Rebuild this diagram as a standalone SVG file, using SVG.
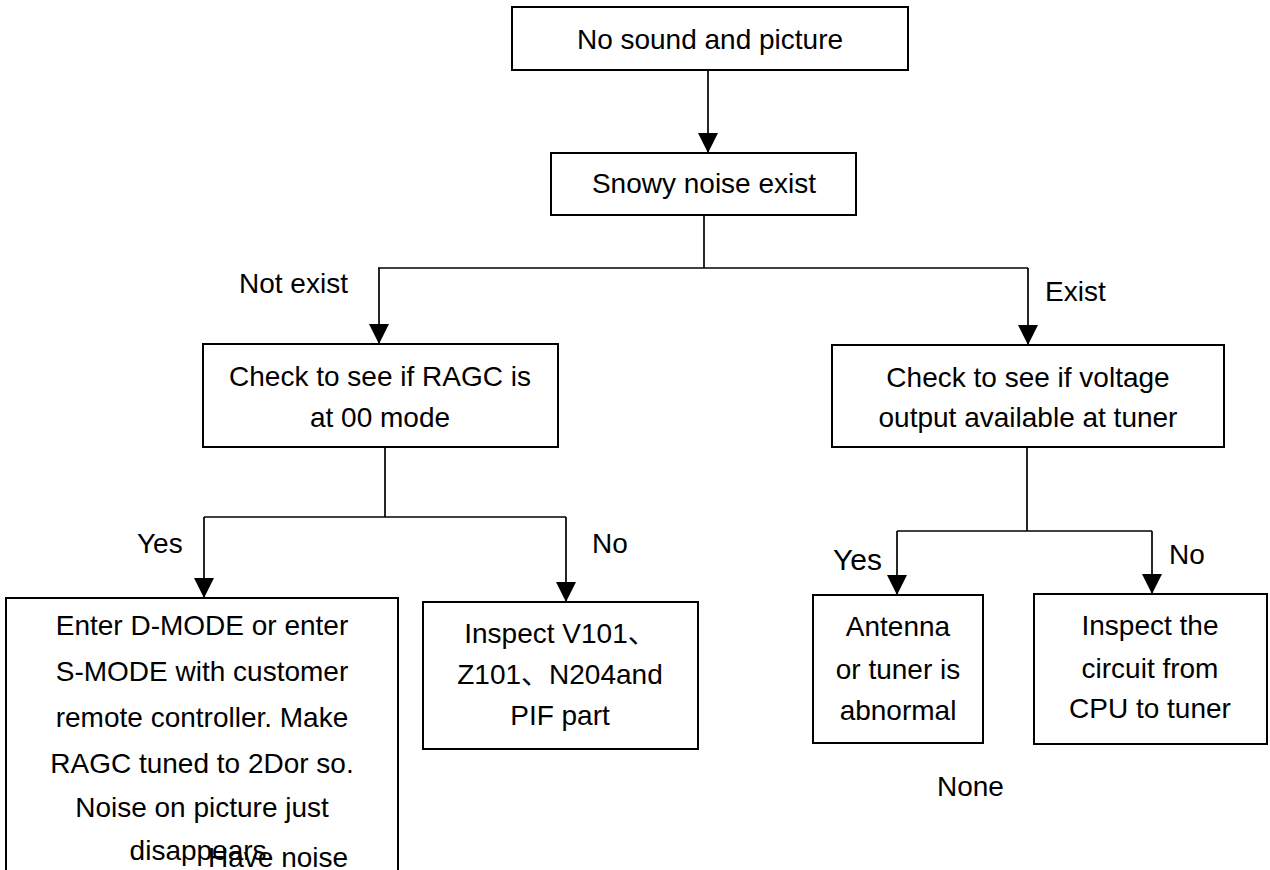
<svg xmlns="http://www.w3.org/2000/svg" width="1270" height="870" viewBox="0 0 1270 870">
  <style>
    .box { fill: #ffffff; stroke: #000000; stroke-width: 2; }
    .link { fill: none; stroke: #000000; stroke-width: 1.7; }
    .t { font-family: "Liberation Sans", Arial, "Noto Sans CJK SC", sans-serif; font-size: 28px; fill: #000000; text-anchor: middle; }
    .lbl { font-family: "Liberation Sans", Arial, sans-serif; font-size: 28px; fill: #000000; }
  </style>
  <defs>
    <marker id="arrow" viewBox="0 -10 20 20" refX="20" refY="0" markerWidth="20" markerHeight="20" markerUnits="userSpaceOnUse" orient="auto">
      <path d="M0,-10 L20,0 L0,10 Z" fill="#000000"/>
    </marker>
  </defs>
  <rect width="1270" height="870" fill="#ffffff"/>

  <!-- connectors -->
  <g id="connectors">
    <line class="link" x1="708" y1="70" x2="708" y2="153" marker-end="url(#arrow)"/>
    <polyline class="link" points="704,215 704,268"/>
    <line class="link" x1="378" y1="268" x2="1028" y2="268"/>
    <line class="link" x1="379" y1="268" x2="379" y2="344" marker-end="url(#arrow)"/>
    <line class="link" x1="1028" y1="268" x2="1028" y2="345" marker-end="url(#arrow)"/>
    <!-- RAGC branch -->
    <line class="link" x1="385" y1="447" x2="385" y2="517"/>
    <line class="link" x1="204" y1="517" x2="566" y2="517"/>
    <line class="link" x1="204" y1="517" x2="204" y2="598" marker-end="url(#arrow)"/>
    <line class="link" x1="566" y1="517" x2="566" y2="602" marker-end="url(#arrow)"/>
    <!-- voltage branch -->
    <line class="link" x1="1027" y1="447" x2="1027" y2="531"/>
    <line class="link" x1="897" y1="531" x2="1152" y2="531"/>
    <line class="link" x1="897" y1="531" x2="897" y2="595" marker-end="url(#arrow)"/>
    <line class="link" x1="1152" y1="531" x2="1152" y2="594" marker-end="url(#arrow)"/>
  </g>

  <!-- connector labels -->
  <g id="labels">
    <text class="lbl" x="239" y="293">Not exist</text>
    <text class="lbl" x="1045" y="301">Exist</text>
    <text class="lbl" x="137" y="553">Yes</text>
    <text class="lbl" x="592" y="553">No</text>
    <text class="lbl" x="833" y="570" style="font-size:30px">Yes</text>
    <text class="lbl" x="1169" y="564">No</text>
    <text class="lbl" x="937" y="796">None</text>
  </g>

  <g id="start">
    <rect class="box" x="512" y="7" width="396" height="63"/>
    <text class="t" x="710" y="49">No sound and picture</text>
  </g>

  <g id="snowy">
    <rect class="box" x="551" y="153" width="305" height="62"/>
    <text class="t" x="704" y="193">Snowy noise exist</text>
  </g>

  <g id="ragc-check">
    <rect class="box" x="203" y="344" width="355" height="103"/>
    <text class="t" x="380" y="386">Check to see if RAGC is</text>
    <text class="t" x="380" y="427">at 00 mode</text>
  </g>

  <g id="voltage-check">
    <rect class="box" x="832" y="345" width="392" height="102"/>
    <text class="t" x="1028" y="387">Check to see if voltage</text>
    <text class="t" x="1028" y="427">output available at tuner</text>
  </g>

  <g id="ragc-adjust">
    <rect class="box" x="6" y="598" width="392" height="290"/>
    <text class="t" x="202" y="635">Enter D-MODE or enter</text>
    <text class="t" x="202" y="681">S-MODE with customer</text>
    <text class="t" x="202" y="727">remote controller. Make</text>
    <text class="t" x="202" y="773">RAGC tuned to 2Dor so.</text>
    <text class="t" x="202" y="817">Noise on picture just</text>
    <text class="t" x="202" y="860">disappears.</text>
    <text class="lbl" x="208" y="867">Have noise</text>
  </g>

  <g id="pif-inspect">
    <rect class="box" x="423" y="602" width="275" height="147"/>
    <text class="t" x="560" y="643">Inspect V101、</text>
    <text class="t" x="560" y="684">Z101、N204and</text>
    <text class="t" x="560" y="725">PIF part</text>
  </g>

  <g id="antenna">
    <rect class="box" x="813" y="595" width="170" height="148"/>
    <text class="t" x="898" y="636">Antenna</text>
    <text class="t" x="898" y="679">or tuner is</text>
    <text class="t" x="898" y="720">abnormal</text>
  </g>

  <g id="cpu-inspect">
    <rect class="box" x="1034" y="594" width="233" height="150"/>
    <text class="t" x="1150" y="635">Inspect the</text>
    <text class="t" x="1150" y="678">circuit from</text>
    <text class="t" x="1150" y="718">CPU to tuner</text>
  </g>
</svg>
